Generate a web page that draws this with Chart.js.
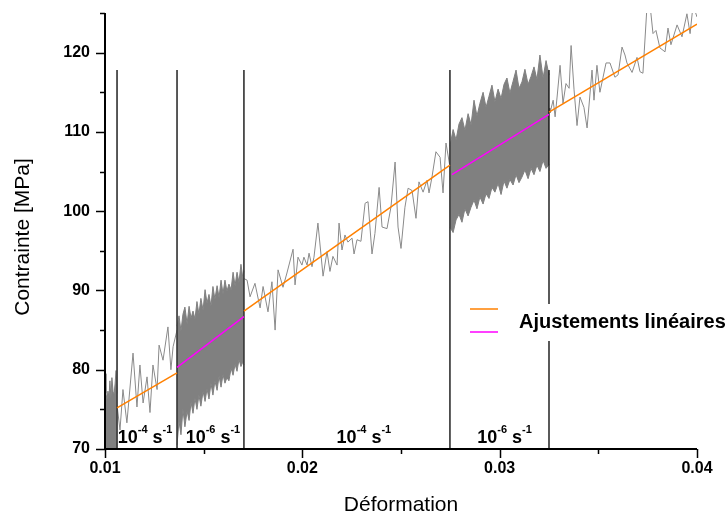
<!DOCTYPE html>
<html>
<head>
<meta charset="utf-8">
<script src="https://cdn.jsdelivr.net/npm/chart.js@4.4.0/dist/chart.umd.min.js"></script>
<style>
  html, body { margin: 0; padding: 0; background: #fff; }
  #wrap { width: 728px; height: 513px; }
</style>
</head>
<body>
<div id="wrap"><canvas id="chart" width="728" height="513"></canvas></div>
<script>
const FONT = "'Liberation Sans', Arial, sans-serif";

// Dense (10^-6 s^-1) stretches: upper / lower envelope of the oscillating signal
const bandAX = [0.01000, 0.01005, 0.01010, 0.01015, 0.01020, 0.01025, 0.01030, 0.01035, 0.01041, 0.01046, 0.01051, 0.01056, 0.01061];
const bandAHigh = [79.5, 77.0, 76.2, 77.3, 76.5, 78.6, 76.4, 79.0, 77.2, 76.9, 78.2, 79.9, 77.0];
const bandALow = [68, 68, 68, 68, 68, 68, 68, 68, 68, 68, 68, 68, 68];

const bandBX = [0.01365, 0.01375, 0.01385, 0.01395, 0.01405, 0.01416, 0.01426, 0.01436, 0.01446, 0.01456,
  0.01466, 0.01476, 0.01486, 0.01497, 0.01507, 0.01517, 0.01527, 0.01537, 0.01547, 0.01557,
  0.01568, 0.01578, 0.01588, 0.01598, 0.01608, 0.01618, 0.01628, 0.01639, 0.01649, 0.01659,
  0.01669, 0.01679, 0.01689, 0.01699, 0.01704];
const bandBHigh = [85.5, 86.8, 84.9, 87.0, 87.9, 85.8, 88.0, 86.5, 87.4, 86.4,
  88.6, 87.0, 89.0, 87.5, 90.1, 88.4, 89.5, 88.0, 90.5, 88.9,
  90.6, 89.1, 91.3, 89.6, 91.3, 89.9, 90.8, 90.1, 92.3, 90.6,
  92.3, 91.0, 93.3, 91.5, 92.5];
const bandBLow = [70.5, 73.5, 71.8, 75.0, 72.8, 74.8, 73.6, 75.9, 74.5, 76.4,
  75.0, 76.8, 75.4, 77.3, 76.0, 77.6, 76.3, 78.3, 76.8, 78.6,
  77.4, 79.2, 77.8, 79.4, 78.3, 79.0, 78.6, 80.2, 79.3, 80.7,
  79.8, 81.3, 80.4, 81.0, 80.6];

const bandDX = [0.02748, 0.02764, 0.02779, 0.02794, 0.02809, 0.02824, 0.02840, 0.02855, 0.02870, 0.02885,
  0.02900, 0.02916, 0.02931, 0.02946, 0.02961, 0.02976, 0.02992, 0.03007, 0.03022, 0.03037,
  0.03052, 0.03068, 0.03083, 0.03098, 0.03113, 0.03128, 0.03144, 0.03159, 0.03174, 0.03189,
  0.03204, 0.03220, 0.03235, 0.03250];
const bandDHigh = [108.2, 110.3, 109.0, 111.0, 111.8, 110.2, 112.3, 110.9, 114.0, 112.0,
  113.6, 115.0, 113.1, 114.5, 115.9, 113.8, 115.4, 114.2, 116.0, 116.8,
  114.9, 116.4, 117.8, 115.5, 116.3, 117.9, 116.0, 117.0, 118.2, 116.6,
  119.7, 116.8, 119.0, 117.2];
const bandDLow = [98.0, 97.3, 98.9, 99.6, 98.6, 100.3, 99.4, 100.5, 101.4, 100.3,
  101.8, 100.9, 102.2, 101.6, 103.0, 102.4, 103.5, 102.1, 103.8, 102.9,
  104.0, 103.3, 104.6, 103.6, 104.3, 105.2, 104.1, 105.4, 104.6, 105.8,
  105.0, 106.4, 105.4, 105.9];

// Sparse (10^-4 s^-1) stretches
const seg1X = [0.01061, 0.01076, 0.01091, 0.01111, 0.01142, 0.01162, 0.01177, 0.01193, 0.01213, 0.01228,
  0.01243, 0.01264, 0.01274, 0.01294, 0.01319, 0.01334, 0.01345, 0.01365];
const seg1Y = [75.5, 72.4, 77.5, 73.3, 82.1, 75.3, 80.6, 75.8, 79.1, 74.6,
  80.6, 77.5, 83.1, 81.2, 85.4, 80.0, 82.9, 85.0];

const seg2X = [0.01704, 0.01720, 0.01735, 0.01760, 0.01786, 0.01801, 0.01826, 0.01846, 0.01862, 0.01877,
  0.01902, 0.01922, 0.01953, 0.01963, 0.01978, 0.01998, 0.02008, 0.02024, 0.02034, 0.02049,
  0.02059, 0.02079, 0.02105, 0.02125, 0.02140, 0.02155, 0.02176, 0.02186, 0.02201, 0.02216,
  0.02231, 0.02252, 0.02262, 0.02277, 0.02297, 0.02318, 0.02333, 0.02353, 0.02368, 0.02389,
  0.02404, 0.02429, 0.02449, 0.02470, 0.02485, 0.02500, 0.02520, 0.02536, 0.02556, 0.02576,
  0.02591, 0.02612, 0.02632, 0.02642, 0.02657, 0.02677, 0.02698, 0.02713, 0.02728, 0.02748];
const seg2Y = [91.5, 91.3, 89.2, 90.9, 87.8, 90.5, 87.3, 91.1, 85.0, 92.6,
  90.4, 92.2, 95.2, 90.7, 94.2, 93.2, 94.2, 93.2, 94.7, 93.0,
  94.2, 98.5, 91.8, 94.9, 92.4, 94.3, 93.2, 98.5, 95.1, 97.0,
  96.1, 96.6, 94.6, 96.4, 96.2, 101.0, 101.2, 94.6, 97.2, 103.0,
  98.0, 97.8, 100.5, 106.2, 98.0, 95.3, 100.5, 102.9, 102.6, 99.1,
  103.7, 102.4, 103.9, 102.3, 104.3, 107.5, 106.8, 102.3, 108.6, 105.6];

const seg3X = [0.03250, 0.03255, 0.03271, 0.03281, 0.03291, 0.03306, 0.03321, 0.03336, 0.03352, 0.03362,
  0.03377, 0.03392, 0.03407, 0.03427, 0.03443, 0.03468, 0.03478, 0.03493, 0.03508, 0.03524,
  0.03539, 0.03559, 0.03584, 0.03600, 0.03620, 0.03635, 0.03645, 0.03671, 0.03696, 0.03711,
  0.03726, 0.03747, 0.03762, 0.03777, 0.03792, 0.03812, 0.03838, 0.03853, 0.03868, 0.03899,
  0.03924, 0.03949, 0.03965, 0.03980, 0.04000];
const seg3Y = [113.0, 112.4, 114.0, 111.9, 114.4, 118.4, 113.6, 116.1, 115.5, 120.9,
  115.3, 110.8, 114.4, 113.1, 110.5, 117.8, 114.0, 118.4, 115.0, 116.9,
  118.7, 118.7, 116.9, 117.2, 120.7, 119.7, 118.7, 117.5, 119.4, 117.6,
  117.4, 126.0, 126.0, 122.4, 122.8, 120.6, 120.1, 123.1, 121.0, 123.5,
  122.0, 124.9, 122.4, 126.0, 124.5];

// Linear fits (pairs = segment start / end)
const orangeFitX = [0.01061, 0.01365, 0.01704, 0.02748, 0.03250, 0.04000];
const orangeFitY = [75.2, 79.6, 87.4, 105.8, 112.5, 123.6];
const magentaFitX = [0.01365, 0.01704, 0.02758, 0.03250];
const magentaFitY = [80.3, 86.7, 104.6, 112.2];

// Strain-rate change markers
const changeX = [0.01061, 0.01365, 0.01704, 0.02748, 0.03250];
const changeTop = 117.8;
const rateLabelX = [0.01203, 0.01547, 0.02312, 0.03025];
const rateExp = ['-4', '-6', '-4', '-6'];

const xMinorTicks = [0.015, 0.025, 0.035];
const yMinorTicks = [75, 85, 95, 105, 115, 125];
const legendText = 'Ajustements linéaires';

const pts = (xs, ys) => xs.map((x, i) => ({ x, y: ys[i] }));

function pairs(xs, ys) {
  const out = [];
  for (let i = 0; i < xs.length; i += 2) out.push([{ x: xs[i], y: ys[i] }, { x: xs[i + 1], y: ys[i + 1] }]);
  return out;
}

const GRAY = '#808080';
const datasets = [];

pairs(orangeFitX, orangeFitY).forEach((d) =>
  datasets.push({ data: d, borderColor: '#ff8000', borderWidth: 1.5, order: 0 })
);
pairs(magentaFitX, magentaFitY).forEach((d) =>
  datasets.push({ data: d, borderColor: '#ff00ff', borderWidth: 1.5, order: 0 })
);
changeX.forEach((x, i) =>
  datasets.push({
    data: [{ x, y: 70 }, { x, y: changeTop }],
    borderColor: i === changeX.length - 1 ? '#000' : '#3c3c3c',
    borderWidth: i === changeX.length - 1 ? 1.3 : 1.7,
    order: 1,
  })
);
[[seg1X, seg1Y], [seg2X, seg2Y], [seg3X, seg3Y]].forEach(([xs, ys]) =>
  datasets.push({ data: pts(xs, ys), borderColor: '#8a8a8a', borderWidth: 1, order: 2 })
);
[[bandAX, bandAHigh, bandALow], [bandBX, bandBHigh, bandBLow], [bandDX, bandDHigh, bandDLow]].forEach(([xs, hi, lo]) => {
  datasets.push({ data: pts(xs, hi), borderColor: GRAY, backgroundColor: GRAY, borderWidth: 1, fill: '+1', order: 3 });
  datasets.push({ data: pts(xs, lo), borderColor: GRAY, borderWidth: 1, fill: false, order: 3 });
});

// Axes, ticks, labels and legend drawn on top of the chart
const overlay = {
  id: 'overlay',
  afterDatasetsDraw(chart) {
    const { ctx, scales: { x, y } } = chart;
    ctx.save();
    // legend box (hides the last marker line behind it)
    ctx.fillStyle = '#fff';
    ctx.fillRect(462, 304, 266, 37);
    ctx.lineWidth = 1.5;
    ctx.strokeStyle = '#ff8000';
    ctx.beginPath(); ctx.moveTo(470, 309); ctx.lineTo(498, 309); ctx.stroke();
    ctx.strokeStyle = '#ff00ff';
    ctx.beginPath(); ctx.moveTo(470, 332); ctx.lineTo(498, 332); ctx.stroke();
    ctx.fillStyle = '#000';
    ctx.font = `bold 20px ${FONT}`;
    ctx.textAlign = 'left';
    ctx.textBaseline = 'middle';
    ctx.fillText(legendText, 519, 322);

    // strain-rate labels: 10^n s^-1
    const base = y.getPixelForValue(70) - 6;
    const big = `bold 18px ${FONT}`;
    const small = `bold 11px ${FONT}`;
    ctx.textBaseline = 'alphabetic';
    rateLabelX.forEach((v, i) => {
      const parts = [['10', big, 0], [rateExp[i], small, -10], [' s', big, 0], ['-1', small, -10]];
      let w = 0;
      parts.forEach(([t, f]) => { ctx.font = f; w += ctx.measureText(t).width; });
      let px = x.getPixelForValue(v) - w / 2;
      parts.forEach(([t, f, dy]) => {
        ctx.font = f;
        ctx.fillText(t, px, base + dy);
        px += ctx.measureText(t).width;
      });
    });
    ctx.restore();
  },
  afterDraw(chart) {
    const { ctx, chartArea: a, scales: { x, y } } = chart;
    ctx.save();
    ctx.strokeStyle = '#000';
    ctx.lineWidth = 2;
    ctx.beginPath();
    ctx.moveTo(a.left, a.top);
    ctx.lineTo(a.left, a.bottom);
    ctx.lineTo(a.right, a.bottom);
    ctx.stroke();

    ctx.lineWidth = 1.5;
    ctx.beginPath();
    y.ticks.forEach((t) => {
      const py = Math.round(y.getPixelForValue(t.value)) + 0.5;
      ctx.moveTo(a.left - 9, py); ctx.lineTo(a.left, py);
    });
    yMinorTicks.forEach((v) => {
      const py = Math.round(y.getPixelForValue(v)) + 0.5;
      ctx.moveTo(a.left - 5, py); ctx.lineTo(a.left, py);
    });
    x.ticks.forEach((t) => {
      const px = Math.round(x.getPixelForValue(t.value)) + 0.5;
      ctx.moveTo(px, a.bottom); ctx.lineTo(px, a.bottom + 9);
    });
    xMinorTicks.forEach((v) => {
      const px = Math.round(x.getPixelForValue(v)) + 0.5;
      ctx.moveTo(px, a.bottom); ctx.lineTo(px, a.bottom + 5);
    });
    ctx.stroke();

    // axis titles
    ctx.fillStyle = '#000';
    ctx.font = `21px ${FONT}`;
    ctx.textAlign = 'center';
    ctx.textBaseline = 'alphabetic';
    ctx.fillText('Déformation', (a.left + a.right) / 2, 511);
    ctx.translate(23, 237);
    ctx.rotate(-Math.PI / 2);
    ctx.textBaseline = 'middle';
    ctx.fillText('Contrainte [MPa]', 0, 0);
    ctx.restore();
  },
};

new Chart(document.getElementById('chart').getContext('2d'), {
  type: 'line',
  data: { datasets },
  options: {
    responsive: false,
    animation: false,
    layout: { padding: { top: 13, right: 31, left: 0, bottom: 0 } },
    elements: { point: { radius: 0 }, line: { tension: 0 } },
    plugins: { legend: { display: false }, tooltip: { enabled: false } },
    scales: {
      x: {
        type: 'linear',
        min: 0.01,
        max: 0.04,
        grid: { display: false, drawTicks: false },
        border: { display: false },
        ticks: {
          stepSize: 0.01,
          includeBounds: false,
          padding: 10,
          color: '#000',
          font: { family: FONT, size: 16, weight: 'bold' },
          maxRotation: 0,
          callback: (v) => Number(v).toFixed(2),
        },
        afterFit: (s) => { s.height = 64; s.paddingLeft = 0; s.paddingRight = 0; },
      },
      y: {
        type: 'linear',
        min: 70,
        max: 125,
        grid: { display: false, drawTicks: false },
        border: { display: false },
        ticks: {
          stepSize: 10,
          includeBounds: false,
          padding: 15,
          color: '#000',
          font: { family: FONT, size: 16, weight: 'bold' },
        },
        afterFit: (s) => { s.width = 105; s.paddingTop = 0; s.paddingBottom = 0; },
      },
    },
  },
  plugins: [overlay],
});
</script>
</body>
</html>
